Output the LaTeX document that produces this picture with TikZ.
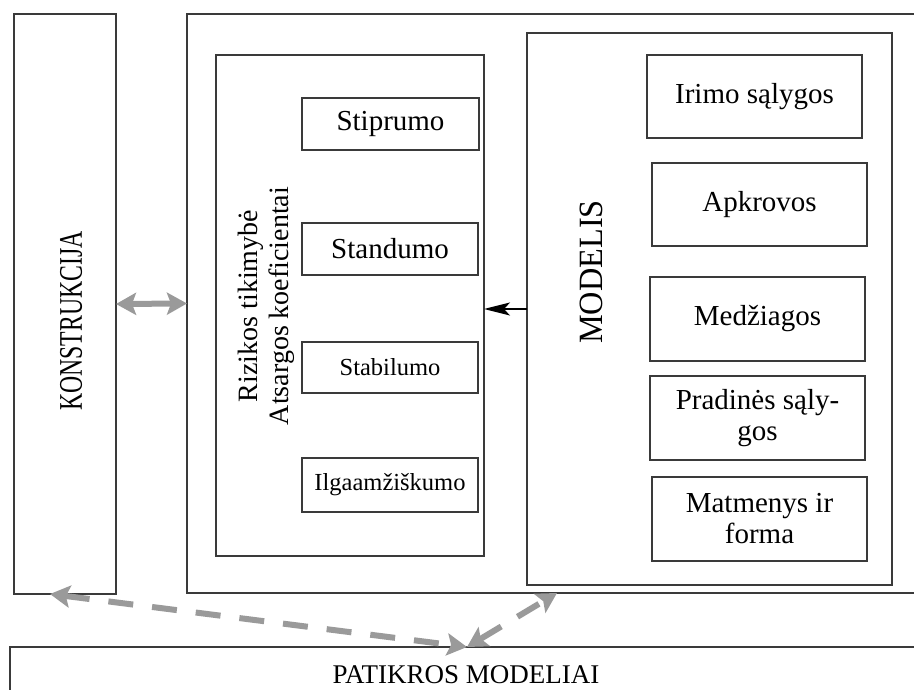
\documentclass[tikz,border=0pt]{standalone}
\usepackage{fontspec}
\setmainfont{Liberation Serif}
\usetikzlibrary{arrows.meta}
\definecolor{boxline}{HTML}{3A3A3A}
\definecolor{arrgray}{HTML}{9A9A9A}
\begin{document}
\begin{tikzpicture}[x=1pt,y=-1pt,
  box/.style={draw=boxline,line width=1.6pt,inner sep=0pt,outer sep=0pt,rectangle,align=center},
  big/.style={font=\fontsize{29}{31}\selectfont},
  small/.style={font=\fontsize{24.5}{28}\selectfont},
  vlbl/.style={rotate=90,inner sep=0pt,align=center},
  grayarrow/.style={draw=arrgray,line width=6pt,{Stealth[length=20pt,width=22pt,inset=4pt]}-{Stealth[length=20pt,width=22pt,inset=4pt]}},
  dasharrow/.style={grayarrow,dash pattern=on 25pt off 19pt},
  blackarrow/.style={draw=black,line width=1.5pt,-{Stealth[length=26pt,width=13pt,inset=6pt]}}]
\clip (0,0) rectangle (914,690);
\fill[white] (0,0) rectangle (914,690);
% main boxes
\node[box,minimum width=102pt,minimum height=580pt] (kon) at (65,304) {};
\node[box,minimum width=743pt,minimum height=579pt] (outer) at (558.5,303.5) {};
\node[box,minimum width=268pt,minimum height=501pt] (inner) at (350,305.5) {};
\node[box,minimum width=365pt,minimum height=552pt] (modelis) at (709.5,309) {};
\node[box,minimum width=920pt,minimum height=80pt,anchor=north] (patikros) at (470,647) {};
% labels
\node[vlbl,font=\fontsize{33}{35}\selectfont] (kontxt) at (71,321) {\scalebox{0.72}[1]{KONSTRUKCIJA}};
\node[vlbl,font=\fontsize{28}{31}\selectfont] (riztxt) at (266,306) {Rizikos tikimybė\\Atsargos koeficientai};
\node[vlbl,font=\fontsize{34}{36}\selectfont] (modtxt) at (591,272) {\scalebox{0.95}[1]{MODELIS}};
\node[inner sep=0pt,font=\fontsize{27}{29}\selectfont] (pattxt) at (466,675) {PATIKROS MODELIAI};
% left inner boxes
\node[box,big,minimum width=177pt,minimum height=52pt] (stip) at (390.5,124) {Stiprumo};
\node[box,big,minimum width=176pt,minimum height=52pt] (stand) at (390,249) {Standumo};
\node[box,small,minimum width=176pt,minimum height=51pt] (stab) at (390,367.5) {Stabilumo};
\node[box,small,minimum width=176pt,minimum height=54pt] (ilga) at (390,485) {Ilgaamžiškumo};
% right inner boxes
\node[box,big,minimum width=215pt,minimum height=83pt] (irimo) at (754.5,96.5) {Irimo sąlygos};
\node[box,big,minimum width=215pt,minimum height=83pt] (apkr) at (759.5,204.5) {Apkrovos};
\node[box,big,minimum width=215pt,minimum height=84pt] (medz) at (757.5,319) {Medžiagos};
\node[box,big,minimum width=215pt,minimum height=84pt] (prad) at (757.5,418) {Pradinės sąly-\\gos};
\node[box,big,minimum width=215pt,minimum height=84pt] (matm) at (759.5,519) {Matmenys ir\\forma};
% connectors
\draw[grayarrow] (kon.east) -- (outer.west);
\draw[blackarrow] (modelis.west) -- (modelis.west -| inner.east);
\coordinate (k1) at ([xshift=36pt]kon.south west);
\coordinate (meet) at ([xshift=-3pt]patikros.north);
\coordinate (o1) at ([xshift=370pt]outer.south west);
\draw[dasharrow] (k1) -- (meet);
\draw[dasharrow] (meet) -- (o1);
\end{tikzpicture}
\end{document}
